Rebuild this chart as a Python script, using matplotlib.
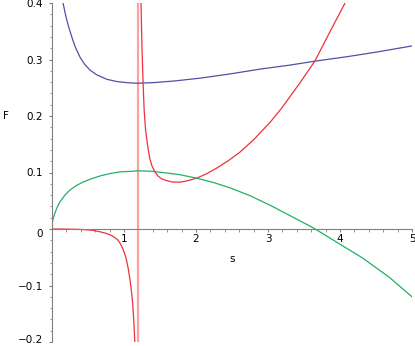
import matplotlib
matplotlib.use("Agg")
import matplotlib.pyplot as plt
from matplotlib.ticker import MultipleLocator, FixedLocator, FixedFormatter
from matplotlib.transforms import ScaledTranslation

# blue curve
blue_s = [0.153, 0.17, 0.19, 0.22, 0.25, 0.29, 0.33, 0.39, 0.45, 0.53, 0.62, 0.76, 0.90,
          1.04, 1.18, 1.40, 1.70, 2.06, 2.50, 2.89, 3.30, 3.65, 4.10, 4.50, 5.00]
blue_F = [0.400, 0.390, 0.378, 0.363, 0.350, 0.334, 0.320, 0.304, 0.292, 0.281, 0.273, 0.265, 0.261,
          0.259, 0.258, 0.259, 0.262, 0.267, 0.275, 0.283, 0.290, 0.297, 0.305, 0.313, 0.324]

# red curve, left of the pole
red_left_s = [0.0, 0.2, 0.4, 0.55, 0.67, 0.76, 0.82, 0.87, 0.91, 0.94, 0.97, 1.00, 1.02, 1.04,
              1.06, 1.08, 1.10, 1.12, 1.135, 1.15]
red_left_F = [0.0, -0.0002, -0.0008, -0.002, -0.005, -0.008, -0.011, -0.015, -0.019, -0.024,
              -0.031, -0.040, -0.048, -0.058, -0.071, -0.087, -0.106, -0.131, -0.160, -0.200]

# red curve, right of the pole
red_right_s = [1.236, 1.25, 1.265, 1.28, 1.30, 1.32, 1.34, 1.36, 1.39, 1.43, 1.47, 1.52, 1.58,
               1.68, 1.78, 1.87, 2.01, 2.15, 2.29, 2.45, 2.61, 2.80, 3.03, 3.19, 3.44, 3.65,
               3.86, 4.07]
red_right_F = [0.400, 0.320, 0.260, 0.210, 0.175, 0.155, 0.138, 0.124, 0.111, 0.101, 0.094,
               0.089, 0.086, 0.083, 0.083, 0.085, 0.090, 0.098, 0.108, 0.121, 0.136, 0.158,
               0.189, 0.214, 0.258, 0.297, 0.349, 0.400]
pole_s = 1.2

# green curve
green_s = [0.0, 0.01, 0.02, 0.04, 0.07, 0.11, 0.18, 0.25, 0.34, 0.43, 0.55, 0.67, 0.80, 0.94,
           1.08, 1.22, 1.40, 1.60, 1.78, 2.01, 2.25, 2.47, 2.75, 3.03, 3.33, 3.63, 3.95, 4.31,
           4.69, 5.0]
green_F = [0.008, 0.015, 0.020, 0.028, 0.038, 0.048, 0.060, 0.069, 0.077, 0.083, 0.089, 0.094,
           0.098, 0.101, 0.102, 0.103, 0.102, 0.099, 0.096, 0.090, 0.082, 0.073, 0.059, 0.042,
           0.022, 0.002, -0.023, -0.051, -0.086, -0.120]

x_ticks = [1, 2, 3, 4, 5]
y_ticks = [-0.2, -0.1, 0, 0.1, 0.2, 0.3, 0.4]
y_labels = ["\u22120.2", "\u22120.1", "0", "0.1", "0.2", "0.3", "0.4"]

fig = plt.figure(figsize=(4.15, 3.46), dpi=100)
ax = fig.add_axes([52 / 415, 4 / 346, 360 / 415, 339 / 346])

ax.axvline(pole_s, color="#f7a3a3", lw=1.6)
ax.plot(blue_s, blue_F, color="#5050aa", lw=0.9)
ax.plot(red_left_s, red_left_F, color="#f0303c", lw=0.9)
ax.plot(red_right_s, red_right_F, color="#f0303c", lw=0.9)
ax.plot(green_s, green_F, color="#22b066", lw=0.9)

ax.set_xlim(0, 5)
ax.set_ylim(-0.2, 0.4)

for side in ["top", "right"]:
    ax.spines[side].set_visible(False)
ax.spines["left"].set_position(("data", 0))
ax.spines["bottom"].set_position(("data", 0))
for side in ["left", "bottom"]:
    ax.spines[side].set_color("#808080")
    ax.spines[side].set_linewidth(0.8)

ax.xaxis.set_major_locator(FixedLocator(x_ticks))
ax.xaxis.set_minor_locator(MultipleLocator(0.2))
ax.yaxis.set_major_locator(FixedLocator(y_ticks))
ax.yaxis.set_major_formatter(FixedFormatter(y_labels))
ax.yaxis.set_minor_locator(MultipleLocator(0.02))

ax.tick_params(which="major", length=2.5, width=0.8, color="#808080", labelsize=7.5, pad=1)
ax.tick_params(which="minor", length=1.8, width=0.6, color="#808080")
ax.tick_params(axis="y", pad=4)

# keep the lowest y label inside the picture
fig.canvas.draw()
low = ax.yaxis.get_majorticklabels()[0]
low.set_transform(low.get_transform() + ScaledTranslation(0, 3 / 100, fig.dpi_scale_trans))
zero = ax.yaxis.get_majorticklabels()[2]
zero.set_transform(zero.get_transform() + ScaledTranslation(0, -4 / 100, fig.dpi_scale_trans))

ax.text(-0.68, 0.2, "F", fontsize=7.5, ha="left", va="center", clip_on=False)
ax.text(2.5, -0.053, "s", fontsize=7.5, ha="center", va="center")

fig.savefig("out.png", dpi=100)
